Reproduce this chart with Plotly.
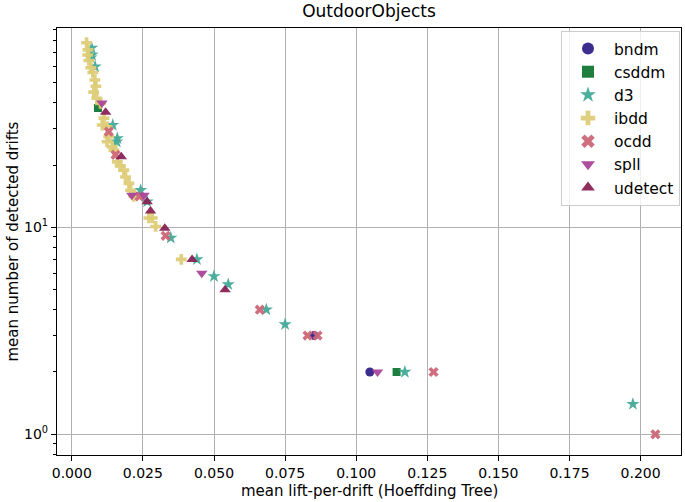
import plotly.graph_objects as go

# ---- data ----
bndm_x = [0.0852, 0.1048]
bndm_y = [3.0, 2.0]

csddm_x = [0.0092, 0.1142]
csddm_y = [37.7, 2.0]

d3_x = [0.0070, 0.0067, 0.0071, 0.0082, 0.0144, 0.0160, 0.0158, 0.0242, 0.0265,
        0.0348, 0.0440, 0.0500, 0.0550, 0.0684, 0.0750, 0.1171, 0.1973]
d3_y = [73.5, 66.0, 68.0, 59.7, 31.2, 26.9, 25.9, 15.1, 13.3,
        8.9, 7.0, 5.8, 5.3, 4.0, 3.4, 2.0, 1.4]

ibdd_x = [0.0052, 0.0057, 0.0056, 0.0060, 0.0067, 0.0074, 0.0081, 0.0085, 0.0077,
          0.0088, 0.0101, 0.0113, 0.0107, 0.0124, 0.0130, 0.0124, 0.0142, 0.0148,
          0.0160, 0.0170, 0.0183, 0.0189, 0.0201, 0.0207, 0.0218, 0.0271, 0.0283,
          0.0295, 0.0385]
ibdd_y = [78.0, 72.0, 68.0, 64.0, 59.0, 56.0, 51.5, 48.0, 45.0,
          42.0, 39.7, 33.7, 31.2, 30.6, 27.4, 25.9, 24.5, 23.6,
          20.7, 19.8, 18.9, 17.5, 16.3, 15.1, 14.1, 11.1, 11.1,
          10.1, 7.0]

ocdd_x = [0.0130, 0.0154, 0.0238, 0.0330, 0.0661, 0.0829, 0.0864, 0.1272, 0.2052]
ocdd_y = [29.0, 22.4, 14.1, 9.1, 4.0, 3.0, 3.0, 2.0, 1.0]

spll_x = [0.0106, 0.0211, 0.0254, 0.0457, 0.1075]
spll_y = [39.9, 14.3, 14.3, 6.0, 2.0]

udetect_x = [0.0119, 0.0174, 0.0265, 0.0277, 0.0327, 0.0423, 0.0539]
udetect_y = [36.0, 21.9, 13.3, 12.0, 9.9, 7.0, 5.0]

x_ticks = [0.0, 0.025, 0.05, 0.075, 0.1, 0.125, 0.15, 0.175, 0.2]
x_tick_labels = ["0.000", "0.025", "0.050", "0.075", "0.100", "0.125", "0.150", "0.175", "0.200"]
y_ticks = [1, 10]
y_tick_labels = ["10<sup>0</sup>", "10<sup>1</sup>"]
y_minor = [0.8, 0.9, 2, 3, 4, 5, 6, 7, 8, 9, 20, 30, 40, 50, 60, 70, 80, 90]

series = [
    ("bndm", bndm_x, bndm_y, "circle", "#332288", 9),
    ("csddm", csddm_x, csddm_y, "square", "#117733", 8),
    ("d3", d3_x, d3_y, "star", "#44AA99", 10),
    ("ibdd", ibdd_x, ibdd_y, "cross", "#DDCC77", 9),
    ("ocdd", ocdd_x, ocdd_y, "x", "#CC6677", 9),
    ("spll", spll_x, spll_y, "triangle-down", "#AA4499", 10),
    ("udetect", udetect_x, udetect_y, "triangle-up", "#882255", 10),
]

FONT = "DejaVu Sans"
L, R, T, B = 57, 4, 28, 47
W, H = 685, 502
PW, PH = W - L - R, H - T - B

fig = go.Figure()
for name, xs, ys, sym, col, sz in series:
    fig.add_trace(go.Scatter(
        x=xs, y=ys, mode="markers", name=name, legendgroup=name,
        marker=dict(symbol=sym, color=col, size=sz, opacity=0.95, line=dict(width=0)),
    ))

fig.update_layout(
    width=W, height=H,
    margin=dict(l=L, r=R, t=T, b=B, autoexpand=False),
    paper_bgcolor="white", plot_bgcolor="white",
    font=dict(family=FONT, color="black", size=14),
    title=dict(text="OutdoorObjects", x=0.5, xref="paper", y=1 - 11 / H,
               yref="container", xanchor="center", yanchor="middle",
               font=dict(family=FONT, size=17, color="black")),
    legend=dict(x=(680 - L) / PW, y=1 - 3 / PH, xanchor="right", yanchor="top",
                bgcolor="rgba(255,255,255,0.8)", bordercolor="#cccccc", borderwidth=1,
                font=dict(family=FONT, size=15.5, color="black"),
                tracegroupgap=0, itemsizing="constant", itemwidth=42),
    showlegend=True,
    annotations=[
        dict(text="mean lift-per-drift (Hoeffding Tree)", xref="paper", yref="paper",
             x=0.5, y=-(491 - (H - B)) / PH, xanchor="center", yanchor="middle",
             showarrow=False, font=dict(family=FONT, size=15, color="black")),
        dict(text="mean number of detected drifts", xref="paper", yref="paper",
             x=-(L - 12) / PW, y=0.5, xanchor="center", yanchor="middle", textangle=-90,
             showarrow=False, font=dict(family=FONT, size=15, color="black")),
    ],
)

fig.update_xaxes(
    range=[-0.0052, 0.2142], automargin=False,
    tickmode="array", tickvals=x_ticks, ticktext=x_tick_labels,
    showgrid=True, gridcolor="#b0b0b0", gridwidth=1.3,
    showline=True, linecolor="black", linewidth=1.2, mirror=True,
    ticks="outside", ticklen=5, tickwidth=1.2, tickcolor="black",
    tickfont=dict(family=FONT, size=14, color="black"),
    zeroline=False,
)

fig.update_yaxes(
    type="log", range=[-0.1, 1.963], automargin=False,
    tickmode="array", tickvals=y_ticks, ticktext=y_tick_labels,
    showgrid=True, gridcolor="#b0b0b0", gridwidth=1.3,
    showline=True, linecolor="black", linewidth=1.2, mirror=True,
    ticks="outside", ticklen=5, tickwidth=1.2, tickcolor="black",
    tickfont=dict(family=FONT, size=14, color="black"),
    minor=dict(tickmode="array", tickvals=y_minor, ticks="outside", ticklen=3,
               tickwidth=1, tickcolor="black", showgrid=False),
    zeroline=False,
)

fig.write_html("out.html", config={"displayModeBar": False},
               post_script="document.body.style.margin='0';document.body.style.overflow='hidden';")
